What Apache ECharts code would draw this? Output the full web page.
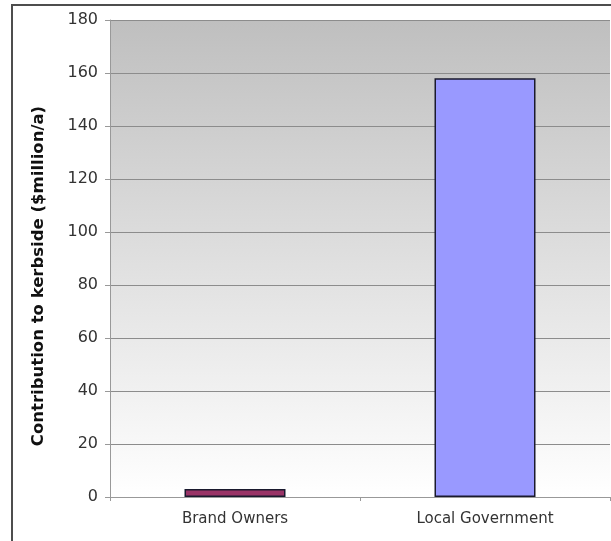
<!DOCTYPE html>
<html>
<head>
<meta charset="utf-8">
<style>html,body{margin:0;padding:0;background:#fff;}#c{width:611px;height:541px;}</style>
<script src="https://cdn.jsdelivr.net/npm/echarts@6/dist/echarts.min.js"></script>
</head>
<body>
<div id="c"></div>
<script>
const categories = ['Brand Owners', 'Local Government'];
const values = [3, 158];
const barColors = ['#993366', '#9999ff'];
const yTicks = [0, 20, 40, 60, 80, 100, 120, 140, 160, 180];
const yTitle = 'Contribution to kerbside ($million/a)';

const chart = echarts.init(document.getElementById('c'), null, {renderer: 'canvas'});
chart.setOption({
  animation: false,
  backgroundColor: '#fff',
  textStyle: {fontFamily: 'DejaVu Sans'},
  graphic: [{
    type: 'rect', z: 100, silent: true,
    shape: {x: 12, y: 5, width: 640, height: 600},
    style: {fill: 'none', stroke: '#4d4d4d', lineWidth: 2}
  }, {
    type: 'text', z: 100, silent: true,
    x: 39, y: 276, rotation: Math.PI / 2,
    style: {
      text: yTitle, fill: '#111', font: 'bold 16.5px "DejaVu Sans"',
      align: 'center', verticalAlign: 'middle'
    }
  }],
  grid: {
    left: 110, top: 20, right: 1, bottom: 44,
    show: true,
    borderWidth: 0,
    backgroundColor: new echarts.graphic.LinearGradient(0, 0, 0, 1, [
      {offset: 0, color: '#bfbfbf'},
      {offset: 1, color: '#ffffff'}
    ])
  },
  xAxis: {
    type: 'category',
    data: categories,
    axisLine: {lineStyle: {color: '#999999', width: 1}},
    axisTick: {show: true, length: 4, lineStyle: {color: '#999999'}},
    axisLabel: {color: '#333', fontSize: 15, margin: 15, fontFamily: 'DejaVu Sans'}
  },
  yAxis: {
    type: 'value',
    min: yTicks[0], max: yTicks[yTicks.length - 1], interval: 20,
    axisLine: {show: true, lineStyle: {color: '#999999', width: 1}},
    axisTick: {show: true, length: 5, lineStyle: {color: '#999999'}},
    axisLabel: {color: '#333', fontSize: 16, margin: 12, fontFamily: 'DejaVu Sans'},
    splitLine: {show: true, lineStyle: {color: '#8c8c8c', width: 1}}
  },
  series: [{
    type: 'bar',
    data: values.map((v, i) => ({value: v, itemStyle: {color: barColors[i]}})),
    barWidth: 101,
    itemStyle: {borderColor: '#1a1a2e', borderWidth: 1.5}
  }]
});
</script>
</body>
</html>
